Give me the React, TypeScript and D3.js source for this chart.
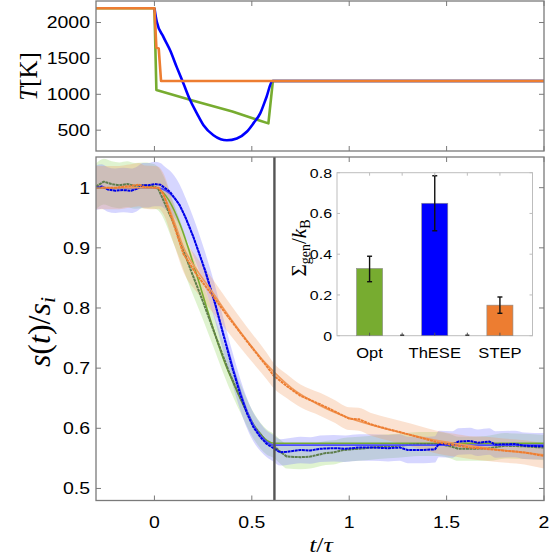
import React from "react";
import * as d3 from "d3";

// ---- top panel: temperature protocols [t/tau, T (K)]
const tempOpt: [number, number][] = [
  [-0.3, 2200], [0, 2200], [0.01, 1060], [0.2, 910], [0.4, 760], [0.543, 631], [0.585, 595], [0.608, 1185], [2, 1185],
];
const tempThese: [number, number][] = [
  [0, 2200], [0.012, 2010], [0.046, 1800], [0.081, 1610], [0.115, 1375], [0.149, 1150],
  [0.183, 920], [0.218, 735], [0.252, 570], [0.303, 430], [0.34, 375], [0.372, 360], [0.423, 385],
  [0.474, 478], [0.508, 595], [0.543, 735], [0.575, 960], [0.606, 1185], [2, 1185],
];
const tempStep: [number, number][] = [
  [-0.3, 2200], [0, 2200], [0.01, 1650], [0.022, 1640], [0.034, 1185], [2, 1185],
];
const tempTicks = [500, 1000, 1500, 2000];

// ---- main panel: measured s(t)/s_i [t/tau, value, std]
const sOpt: [number, number, number][] = [
  [-0.3, 1.002, 0.038], [-0.26, 1.01, 0.038], [-0.22, 1.006, 0.038], [-0.18, 1.004, 0.038], [-0.14, 1.006, 0.038],
  [-0.1, 1.003, 0.038], [-0.05, 1.004, 0.038], [0, 1.002, 0.037], [0.02, 0.998, 0.036], [0.1, 0.94, 0.034],
  [0.183, 0.866, 0.032], [0.25, 0.81, 0.03], [0.303, 0.763, 0.028], [0.38, 0.696, 0.026], [0.44, 0.651, 0.024],
  [0.508, 0.605, 0.022], [0.577, 0.577, 0.021], [0.611, 0.571, 0.02], [0.65, 0.56, 0.02], [0.68, 0.553, 0.02],
  [0.75, 0.552, 0.02], [0.8, 0.553, 0.02], [0.88, 0.559, 0.02], [0.92, 0.56, 0.02], [0.97, 0.564, 0.02],
  [1.05, 0.566, 0.02], [1.15, 0.569, 0.02], [1.25, 0.571, 0.02], [1.36, 0.574, 0.02], [1.46, 0.574, 0.02],
  [1.52, 0.57, 0.02], [1.56, 0.566, 0.02], [1.65, 0.566, 0.02], [1.72, 0.567, 0.021], [1.8, 0.571, 0.021],
  [1.9, 0.57, 0.021], [2.0, 0.568, 0.021],
];
const sThese: [number, number, number][] = [
  [-0.3, 1.0, 0.037], [-0.27, 1.002, 0.037], [-0.24, 0.997, 0.037], [-0.2, 0.995, 0.037], [-0.16, 0.996, 0.037],
  [-0.12, 0.995, 0.037], [-0.09, 0.998, 0.037], [-0.06, 1.004, 0.037], [-0.03, 1.004, 0.037], [0, 1.006, 0.037],
  [0.03, 1.005, 0.036], [0.06, 0.998, 0.035], [0.08, 0.993, 0.035], [0.128, 0.972, 0.034], [0.16, 0.95, 0.033],
  [0.2, 0.918, 0.032], [0.26, 0.863, 0.03], [0.312, 0.807, 0.029], [0.354, 0.755, 0.028], [0.402, 0.698, 0.027],
  [0.44, 0.657, 0.026], [0.475, 0.625, 0.025], [0.508, 0.602, 0.024], [0.545, 0.585, 0.023], [0.577, 0.574, 0.022],
  [0.611, 0.567, 0.022], [0.645, 0.56, 0.022], [0.68, 0.561, 0.022], [0.75, 0.564, 0.022], [0.8, 0.563, 0.022],
  [0.85, 0.566, 0.022], [0.92, 0.567, 0.022], [0.98, 0.566, 0.022], [1.05, 0.568, 0.022], [1.12, 0.568, 0.022],
  [1.2, 0.567, 0.022], [1.26, 0.568, 0.022], [1.3, 0.564, 0.022], [1.38, 0.564, 0.022], [1.44, 0.565, 0.022],
  [1.46, 0.574, 0.022], [1.53, 0.573, 0.022], [1.56, 0.578, 0.022], [1.62, 0.579, 0.022], [1.66, 0.576, 0.022],
  [1.72, 0.578, 0.022], [1.75, 0.573, 0.022], [1.85, 0.574, 0.022], [1.9, 0.571, 0.022], [2.0, 0.57, 0.022],
];
const sStep: [number, number, number][] = [
  [-0.3, 1.0, 0.036], [-0.2, 1.0, 0.036], [-0.12, 1.003, 0.036], [-0.08, 1.005, 0.036], [-0.05, 1.001, 0.036],
  [0, 1.0, 0.036], [0.02, 1.0, 0.035], [0.046, 0.99, 0.034], [0.098, 0.94, 0.032], [0.149, 0.89, 0.03],
  [0.218, 0.855, 0.029], [0.286, 0.826, 0.028], [0.372, 0.788, 0.026], [0.474, 0.745, 0.024], [0.577, 0.703, 0.022],
  [0.611, 0.688, 0.021], [0.68, 0.67, 0.02], [0.75, 0.654, 0.019], [0.85, 0.64, 0.019], [0.92, 0.629, 0.019],
  [1.0, 0.616, 0.019], [1.05, 0.615, 0.019], [1.108, 0.607, 0.019], [1.16, 0.602, 0.019], [1.28, 0.592, 0.019],
  [1.36, 0.585, 0.019], [1.45, 0.577, 0.019], [1.54, 0.572, 0.019], [1.62, 0.568, 0.019], [1.7, 0.566, 0.02],
  [1.79, 0.563, 0.02], [1.9, 0.56, 0.02], [2.0, 0.554, 0.021],
];

// ---- main panel: model curves [t/tau, value]
const thOpt: [number, number][] = [
  [-0.3, 1], [0, 1], [0.02, 0.998], [0.38, 0.694], [0.44, 0.65], [0.508, 0.607], [0.577, 0.58], [0.616, 0.575], [2, 0.575],
];
const thThese: [number, number][] = [
  [-0.3, 1], [0, 1], [0.04, 0.998], [0.08, 0.99], [0.13, 0.97], [0.18, 0.935], [0.23, 0.89], [0.28, 0.84],
  [0.33, 0.785], [0.38, 0.728], [0.43, 0.672], [0.48, 0.625], [0.53, 0.594], [0.575, 0.578], [0.616, 0.572], [2, 0.572],
];
const thStep: [number, number][] = [
  [-0.3, 1], [0.02, 1], [0.05, 0.985], [0.1, 0.945], [0.15, 0.9], [0.22, 0.862], [0.29, 0.83], [0.37, 0.792],
  [0.47, 0.748], [0.58, 0.705], [0.7, 0.668], [0.85, 0.638], [1, 0.617], [1.2, 0.598], [1.4, 0.583], [1.6, 0.572],
  [1.8, 0.563], [2, 0.556],
];
const protocolEnd = 0.616;
const xTicks = [0, 0.5, 1, 1.5, 2];
const xTickLabels = ["0", "0.5", "1", "1.5", "2"];
const sTicks = [0.5, 0.6, 0.7, 0.8, 0.9, 1];
const sTickLabels = ["0.5", "0.6", "0.7", "0.8", "0.9", "1"];

// ---- inset: entropy generation
const barNames = ["Opt", "", "ThESE", "", "STEP"];
const barValues = [0.33, 0, 0.65, 0, 0.15];
const barErrLow = [0.265, 0, 0.515, 0, 0.11];
const barErrHigh = [0.39, 0, 0.785, 0, 0.19];
const barTicks = [0, 0.2, 0.4, 0.6, 0.8];
const barTickLabels = ["0", "0.2", "0.4", "0.6", "0.8"];

const GREEN = "#77ac30";
const BLUE = "#0000ff";
const ORANGE = "#ed7d31";
const barColors = [GREEN, "#333", BLUE, "#333", ORANGE];

const sans = "'Liberation Sans', Arial, Helvetica, sans-serif";
const serif = "'Liberation Serif', 'Times New Roman', serif";
const axisGray = "#7a7a7a";
const STRETCH = 1.18; // the original figure is slightly wider than tall

function Label({ x, y, anchor, size, children }: any) {
  return (
    <text
      transform={`translate(${x},${y}) scale(${STRETCH},1)`}
      dy="0.36em"
      textAnchor={anchor}
      fontFamily={sans}
      fontSize={size}
      fill="#000"
    >
      {children}
    </text>
  );
}

export default function App() {
  const x = d3.scaleLinear().domain([-0.3, 2]).range([96, 544]);
  const yT = d3.scaleLinear().domain([210, 2300]).range([151, 1]);
  const yS = d3.scaleLinear().domain([0.48, 1.051]).range([500.5, 157]);

  const xi = d3.scaleLinear().domain([0, 6]).range([337, 532.5]);
  const yi = d3.scaleLinear().domain([0, 0.8]).range([335.7, 172.7]);

  const tempLine = d3
    .line<[number, number]>()
    .x((d) => x(d[0]))
    .y((d) => yT(d[1]));
  const tempSmooth = d3
    .line<[number, number]>()
    .x((d) => x(d[0]))
    .y((d) => yT(d[1]))
    .curve(d3.curveMonotoneX);

  const expLine = d3
    .line<[number, number, number]>()
    .x((d) => x(d[0]))
    .y((d) => yS(d[1]));
  const band = d3
    .area<[number, number, number]>()
    .x((d) => x(d[0]))
    .y0((d) => yS(d[1] - d[2]))
    .y1((d) => yS(d[1] + d[2]))
    .curve(d3.curveMonotoneX);
  const thLine = d3
    .line<[number, number]>()
    .x((d) => x(d[0]))
    .y((d) => yS(d[1]))
    .curve(d3.curveMonotoneX);

  const [tx0, tx1] = x.range();
  const tickLen = 5;

  const frame = (y0: number, y1: number, yTicksPx: number[]) => (
    <g>
      <rect x={tx0} y={y0} width={tx1 - tx0} height={y1 - y0} fill="none" stroke={axisGray} strokeWidth={1.3} />
      {xTicks.map((t, i) => (
        <g key={"xt" + i}>
          <line x1={x(t)} x2={x(t)} y1={y1} y2={y1 - tickLen} stroke={axisGray} />
          <line x1={x(t)} x2={x(t)} y1={y0} y2={y0 + tickLen} stroke={axisGray} />
        </g>
      ))}
      {yTicksPx.map((py, i) => (
        <g key={"yt" + i}>
          <line x1={tx0} x2={tx0 + tickLen} y1={py} y2={py} stroke={axisGray} />
          <line x1={tx1} x2={tx1 - tickLen} y1={py} y2={py} stroke={axisGray} />
        </g>
      ))}
    </g>
  );

  return (
    <svg
      width={559}
      height={560}
      style={{ position: "absolute", left: 0, top: 0, background: "#fff" }}
    >
      <rect width={559} height={560} fill="#fff" />
      <defs>
        <clipPath id="clipTop">
          <rect x={tx0} y={1} width={tx1 - tx0} height={150} />
        </clipPath>
        <clipPath id="clipMain">
          <rect x={tx0} y={157} width={tx1 - tx0} height={343.5} />
        </clipPath>
      </defs>

      {/* top panel: temperature */}
      <g clipPath="url(#clipTop)" fill="none" strokeWidth={2.6} strokeLinejoin="round">
        <path d={tempLine(tempOpt) || ""} stroke={GREEN} />
        <path d={tempSmooth(tempThese) || ""} stroke={BLUE} />
        <path d={tempLine(tempStep) || ""} stroke={ORANGE} />
      </g>
      {frame(1, 151, tempTicks.map((v) => yT(v)))}
      {tempTicks.map((v) => (
        <Label key={v} x={tx0 - 6} y={yT(v)} anchor="end" size={16.5}>
          {v}
        </Label>
      ))}
      <text
        transform={`translate(37, ${yT(1250)}) rotate(-90)`}
        textAnchor="middle"
        fontFamily={serif}
        fontSize={25}
      >
        <tspan fontStyle="italic">T</tspan>
        <tspan>[K]</tspan>
      </text>

      {/* main panel: s(t)/s_i */}
      <g clipPath="url(#clipMain)">
        <path d={band(sOpt) || ""} fill="rgb(150,215,100)" fillOpacity={0.3} />
        <path d={band(sThese) || ""} fill="rgb(120,120,255)" fillOpacity={0.3} />
        <path d={band(sStep) || ""} fill="rgb(240,150,90)" fillOpacity={0.28} />
        <g fill="none" strokeLinejoin="round">
          <path d={thLine(thOpt) || ""} stroke={GREEN} strokeWidth={1.6} />
          <path d={expLine(sOpt) || ""} stroke="#5d7d4a" strokeWidth={2} strokeDasharray="3 0.6" />
          <path d={thLine(thThese) || ""} stroke="#4d4dff" strokeWidth={1.6} />
          <path d={expLine(sThese) || ""} stroke="#0000e6" strokeWidth={2} strokeDasharray="3 0.6" />
          <path d={thLine(thStep) || ""} stroke="#f09a5c" strokeWidth={1.6} />
          <path d={expLine(sStep) || ""} stroke={ORANGE} strokeWidth={2} strokeDasharray="3 0.6" />
        </g>
      </g>
      <line x1={x(protocolEnd)} x2={x(protocolEnd)} y1={157} y2={500.5} stroke="#555" strokeWidth={2.4} />
      {frame(157, 500.5, sTicks.map((v) => yS(v)))}
      {sTicks.map((v, i) => (
        <Label key={v} x={tx0 - 6} y={yS(v)} anchor="end" size={16.5}>
          {sTickLabels[i]}
        </Label>
      ))}
      {xTicks.map((t, i) => (
        <Label key={t} x={x(t)} y={522} anchor="middle" size={16.5}>
          {xTickLabels[i]}
        </Label>
      ))}
      <text
        transform={`translate(321, 552) scale(${STRETCH},1)`}
        textAnchor="middle"
        fontFamily={serif}
        fontSize={22}
      >
        <tspan fontStyle="italic">t</tspan>
        <tspan>/</tspan>
        <tspan fontStyle="italic">τ</tspan>
      </text>
      <text
        transform={`translate(50, ${yS(0.76)}) rotate(-90)`}
        textAnchor="middle"
        fontFamily={serif}
        fontSize={32}
      >
        <tspan fontStyle="italic">s</tspan>
        <tspan>(</tspan>
        <tspan fontStyle="italic">t</tspan>
        <tspan>)/</tspan>
        <tspan fontStyle="italic">s</tspan>
        <tspan fontStyle="italic" fontSize={22} dy={5}>i</tspan>
      </text>

      {/* inset: entropy generation bars */}
      <rect x={xi(0)} y={yi(0.8)} width={xi(6) - xi(0)} height={yi(0) - yi(0.8)} fill="#fff" stroke="#bdbdbd" />
      {barValues.map((v, i) => {
        const cx = xi(i + 1);
        const w = xi(0.8) - xi(0);
        return (
          <g key={"bar" + i}>
            {v > 0 ? (
              <rect x={cx - w / 2} y={yi(v)} width={w} height={yi(0) - yi(v)} fill={barColors[i]} stroke="#8a8a8a" strokeWidth={0.6} />
            ) : (
              <line x1={cx - 2} x2={cx + 2} y1={yi(0) - 0.5} y2={yi(0) - 0.5} stroke="#333" strokeWidth={1.5} />
            )}
            {v > 0 && (
              <g stroke="#111" strokeWidth={1.4}>
                <line x1={cx} x2={cx} y1={yi(barErrLow[i])} y2={yi(barErrHigh[i])} />
                <line x1={cx - 2.5} x2={cx + 2.5} y1={yi(barErrLow[i])} y2={yi(barErrLow[i])} />
                <line x1={cx - 2.5} x2={cx + 2.5} y1={yi(barErrHigh[i])} y2={yi(barErrHigh[i])} />
              </g>
            )}
            <line x1={cx} x2={cx} y1={yi(0.8)} y2={yi(0.8) + 3} stroke="#bdbdbd" />
            <line x1={cx} x2={cx} y1={yi(0)} y2={yi(0) - 3} stroke="#555" />
            {barNames[i] && (
              <text
                transform={`translate(${cx},357.5) scale(${STRETCH},1)`}
                textAnchor="middle"
                fontFamily={sans}
                fontSize={14}
              >
                {barNames[i]}
              </text>
            )}
          </g>
        );
      })}
      {barTicks.map((v, i) => (
        <g key={"bt" + i}>
          <line x1={xi(6)} x2={xi(6) - 3} y1={yi(v)} y2={yi(v)} stroke="#bdbdbd" />
          <line x1={xi(0)} x2={xi(0) + 3} y1={yi(v)} y2={yi(v)} stroke="#bdbdbd" />
          <Label x={332} y={yi(v)} anchor="end" size={13.5}>
            {barTickLabels[i]}
          </Label>
        </g>
      ))}
      <text
        transform={`translate(306, 248) rotate(-90)`}
        textAnchor="middle"
        fontFamily={serif}
        fontSize={21}
      >
        <tspan>Σ</tspan>
        <tspan fontSize={14} dy={4}>gen</tspan>
        <tspan dy={-4}>/</tspan>
        <tspan fontStyle="italic">k</tspan>
        <tspan fontSize={14} dy={4}>B</tspan>
      </text>
    </svg>
  );
}
